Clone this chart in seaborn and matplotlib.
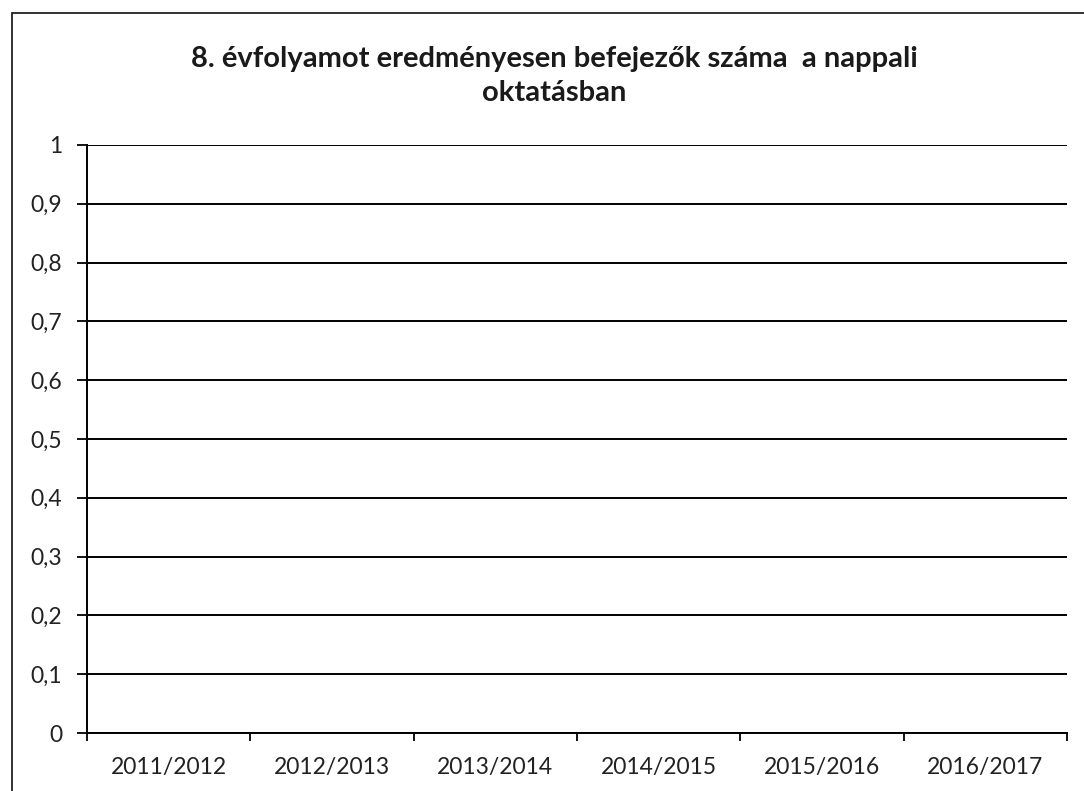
import numpy as np
import pandas as pd
import seaborn as sns
import matplotlib
matplotlib.use("Agg")
import matplotlib.pyplot as plt
from matplotlib.patches import Rectangle
from matplotlib.ticker import FuncFormatter

# ---- data (the reference chart contains no plotted values) ----
categories = ["2011/2012", "2012/2013", "2013/2014", "2014/2015", "2015/2016", "2016/2017"]
values = [np.nan, np.nan, np.nan, np.nan, np.nan, np.nan]
y_ticks = [0, 0.1, 0.2, 0.3, 0.4, 0.5, 0.6, 0.7, 0.8, 0.9, 1]
title_lines = ["8. évfolyamot eredményesen befejezők száma  a nappali", "oktatásban"]

sns.set_theme(style="white")
plt.rcParams["font.family"] = ["Lato", "DejaVu Sans"]

df = pd.DataFrame({"tanev": categories, "ertek": values})

fig = plt.figure(figsize=(10.84, 7.91), dpi=100)
ax = fig.add_axes([0.0803, 0.0733, 0.9040, 0.7434])

sns.barplot(data=df, x="tanev", y="ertek", ax=ax, color="#4472C4", errorbar=None)

ax.set_xlim(-0.5, len(categories) - 0.5)
ax.set_ylim(0, 1)
ax.set_yticks(y_ticks)
ax.yaxis.set_major_formatter(FuncFormatter(lambda v, p: ("%g" % round(v, 1)).replace(".", ",")))
ax.yaxis.grid(True, color="black", linewidth=1.4)
ax.set_axisbelow(True)
ax.set_xlabel("")
ax.set_ylabel("")

# category boundary tick marks
ax.set_xticks(np.arange(-0.5, len(categories), 1.0), minor=True)
ax.tick_params(axis="x", which="minor", length=6, width=1.3, color="black", direction="out", bottom=True)
ax.tick_params(axis="x", which="major", length=0, pad=17, labelsize=16.5, labelcolor="#222222")
ax.tick_params(axis="y", which="major", length=7, width=1.3, color="black", direction="out",
               left=True, pad=11, labelsize=16.5, labelcolor="#222222")

for s in ["top", "right"]:
    ax.spines[s].set_visible(False)
for s in ["left", "bottom"]:
    ax.spines[s].set_color("black")
    ax.spines[s].set_linewidth(1.4)

title_y = [0.9153, 0.8723]
for line, yy in zip(title_lines, title_y):
    fig.text(0.511, yy, line, ha="center", va="baseline", fontsize=21, fontweight="bold",
             color="#1a1a1a")

# chart border
fig.patches.append(Rectangle((0.011, -0.02), 1.0, 1.0036, transform=fig.transFigure,
                             fill=False, edgecolor="#222222", linewidth=1.3))

fig.savefig("out.png", dpi=100, facecolor="white")
